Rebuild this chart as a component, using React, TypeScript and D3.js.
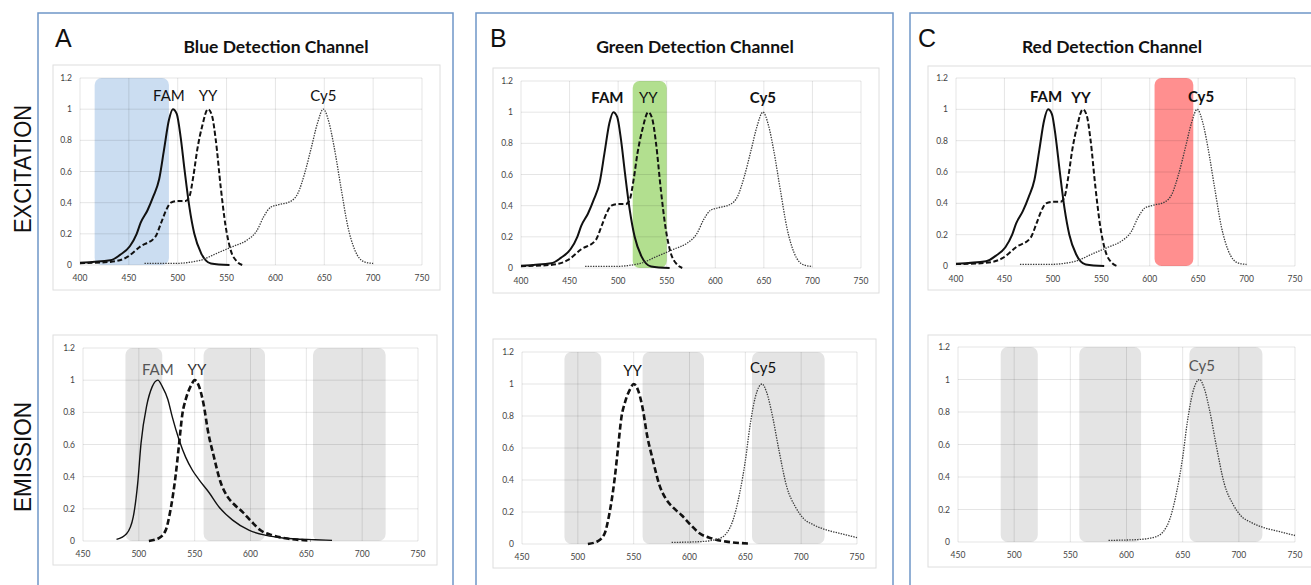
import React from "react";
import * as d3 from "d3";

type Pt = [number, number];

// excitation spectra, [wavelength nm, normalised intensity]
const famExcitation: Pt[] = [
  [400, 0.015], [431, 0.03], [441, 0.065], [451, 0.12], [458, 0.2], [462, 0.27],
  [469, 0.35], [475, 0.44], [481, 0.55], [486, 0.74], [491, 0.93], [495, 1.0],
  [499, 0.97], [503, 0.82], [507, 0.61], [512, 0.37], [517, 0.2], [524, 0.075],
  [534, 0.01], [553, 0],
];
const yyExcitation: Pt[] = [
  [400, 0.012], [431, 0.02], [448, 0.05], [462, 0.12], [477, 0.18], [483, 0.27],
  [488, 0.35], [493, 0.4], [500, 0.41], [508, 0.41], [512, 0.44], [516, 0.57],
  [520, 0.74], [525, 0.89], [531, 1.0], [535, 0.96], [539, 0.8], [544, 0.5],
  [549, 0.25], [554, 0.1], [561, 0.02], [566, 0],
];
const cy5Excitation: Pt[] = [
  [466, 0.01], [496, 0.01], [523, 0.03], [540, 0.075], [557, 0.12], [571, 0.16],
  [581, 0.22], [588, 0.31], [595, 0.37], [602, 0.385], [616, 0.41], [623, 0.46],
  [630, 0.59], [637, 0.76], [643, 0.91], [649, 1.0], [655, 0.91], [660, 0.76],
  [667, 0.5], [674, 0.25], [681, 0.1], [691, 0.02], [700, 0.01],
];

// emission spectra
const famEmission: Pt[] = [
  [480, 0.01], [489, 0.045], [495, 0.15], [499, 0.36], [502, 0.61], [507, 0.84],
  [512, 0.96], [517, 1.0], [521, 0.96], [526, 0.88], [530, 0.77], [536, 0.63],
  [542, 0.52], [548, 0.44], [554, 0.38], [563, 0.3], [572, 0.21], [584, 0.13],
  [599, 0.066], [614, 0.035], [629, 0.019], [658, 0.008], [673, 0.004],
];
const yyEmission: Pt[] = [
  [509, 0], [518, 0.018], [524, 0.066], [528, 0.18], [533, 0.41], [536, 0.6],
  [539, 0.79], [542, 0.88], [547, 0.97], [550, 1.0], [554, 0.96], [558, 0.85],
  [562, 0.68], [567, 0.53], [573, 0.37], [579, 0.28], [585, 0.23], [593, 0.18],
  [601, 0.12], [609, 0.067], [620, 0.035], [633, 0.015], [654, 0.003],
];
const cy5Emission: Pt[] = [
  [584, 0.01], [610, 0.015], [625, 0.03], [633, 0.066], [639, 0.15], [645, 0.32],
  [650, 0.52], [654, 0.73], [659, 0.92], [665, 1.0], [669, 0.95], [674, 0.81],
  [680, 0.59], [687, 0.36], [695, 0.23], [702, 0.16], [711, 0.12], [723, 0.087],
  [735, 0.066], [750, 0.04],
];

const exTicks = [400, 450, 500, 550, 600, 650, 700, 750];
const emTicks = [450, 500, 550, 600, 650, 700, 750];
const yTicks = [0, 0.2, 0.4, 0.6, 0.8, 1, 1.2];

const letters = ["A", "B", "C"];
const titles = ["Blue Detection Channel", "Green Detection Channel", "Red Detection Channel"];
// excitation filter windows per channel
const exBands: Pt[] = [[415, 491], [515, 550], [605, 645]];
const exBandColors = ["#cbddf1", "#b2df8f", "#ff8f8f"];
// emission filter windows (same for all channels)
const emBands: Pt[] = [[488, 521], [558, 613], [656, 721]];

const spectra: Record<string, { ex: Pt[]; em: Pt[] }> = {
  FAM: { ex: famExcitation, em: famEmission },
  YY: { ex: yyExcitation, em: yyEmission },
  Cy5: { ex: cy5Excitation, em: cy5Emission },
};

const FONT = "Lato, 'Open Sans', sans-serif";

const panels = [
  {
    border: [38, 453], titleX: 276, letterX: 55,
    ex: { box: [53, 65, 440, 290], x: [80, 422], y: [265, 78] },
    em: { box: [53, 335, 437, 565], x: [83, 418], y: [541, 348] },
    exLabels: [["FAM", 491, 1.05, 400], ["YY", 531, 1.05, 400], ["Cy5", 649, 1.05, 400]],
    emSeries: ["FAM", "YY"],
    emLabels: [["FAM", 517, 1.03, "#555"], ["YY", 552, 1.03, "#333"]],
  },
  {
    border: [476, 893], titleX: 695, letterX: 490,
    ex: { box: [493, 68, 879, 293], x: [521, 861], y: [268, 81] },
    em: { box: [493, 339, 876, 568], x: [522, 857], y: [544, 352] },
    exLabels: [["FAM", 489, 1.06, 700], ["YY", 531, 1.06, 400], ["Cy5", 649, 1.06, 700]],
    emSeries: ["YY", "Cy5"],
    emLabels: [["YY", 549, 1.05, "#111"], ["Cy5", 666, 1.07, "#111"]],
  },
  {
    border: [910, 1340], titleX: 1112, letterX: 918,
    ex: { box: [928, 66, 1330, 290], x: [956, 1295], y: [266, 78] },
    em: { box: [928, 335, 1330, 567], x: [958, 1295], y: [542, 347] },
    exLabels: [["FAM", 493, 1.05, 700], ["YY", 529, 1.04, 700], ["Cy5", 653, 1.05, 700]],
    emSeries: ["Cy5"],
    emLabels: [["Cy5", 667, 1.05, "#555"]],
  },
];

const lineStyle = (name: string, kind: "ex" | "em") => {
  if (name === "FAM") return { width: kind === "ex" ? 2 : 1.4, dash: "none", color: "#111" };
  if (name === "YY") return { width: kind === "ex" ? 2 : 2.6, dash: kind === "ex" ? "5 2.5" : "6 3", color: "#111" };
  return { width: 1.3, dash: "1.4 1.2", color: "#3a3a3a" };
};

const Chart = ({ cfg, kind, panel, idx }: any) => {
  const ticks = kind === "ex" ? exTicks : emTicks;
  const x = d3.scaleLinear().domain([ticks[0], ticks[ticks.length - 1]]).range(cfg.x);
  const y = d3.scaleLinear().domain([0, 1.2]).range(cfg.y);
  const line = d3
    .line<Pt>()
    .x((d) => x(d[0]))
    .y((d) => y(d[1]))
    .curve(d3.curveMonotoneX);
  const [bx0, by0, bx1, by1] = cfg.box;
  const bands = kind === "ex" ? [exBands[idx]] : emBands;
  const bandFill = kind === "ex" ? exBandColors[idx] : "#e4e4e4";
  const series = kind === "ex" ? ["FAM", "YY", "Cy5"] : panel.emSeries;
  const labels = kind === "ex" ? panel.exLabels : panel.emLabels;

  return (
    <g>
      <rect x={bx0} y={by0} width={bx1 - bx0} height={by1 - by0} fill="#fff" stroke="#dedede" />
      {bands.map((b: Pt, i: number) => (
        <rect
          key={i}
          x={x(b[0])}
          y={y(1.2)}
          width={x(b[1]) - x(b[0])}
          height={y(0) - y(1.2)}
          rx={7}
          fill={bandFill}
        />
      ))}
      {ticks.map((t) => (
        <line key={"gx" + t} x1={x(t)} x2={x(t)} y1={y(0)} y2={y(1.2)} stroke="rgba(0,0,0,0.1)" />
      ))}
      {yTicks.map((t) => (
        <line key={"gy" + t} x1={cfg.x[0]} x2={cfg.x[1]} y1={y(t)} y2={y(t)} stroke="rgba(0,0,0,0.1)" />
      ))}
      {ticks.map((t) => (
        <text key={"tx" + t} x={x(t)} y={y(0) + 16} textAnchor="middle" fontSize={8.5} fill="#444" fontFamily={FONT}>
          {t}
        </text>
      ))}
      {yTicks.map((t) => (
        <text key={"ty" + t} x={cfg.x[0] - 8} y={y(t) + 3} textAnchor="end" fontSize={8.5} fill="#444" fontFamily={FONT}>
          {String(t)}
        </text>
      ))}
      {series.map((s: string) => {
        const st = lineStyle(s, kind);
        return (
          <path
            key={s}
            d={line(spectra[s][kind as "ex" | "em"]) || ""}
            fill="none"
            stroke={st.color}
            strokeWidth={st.width}
            strokeDasharray={st.dash}
          />
        );
      })}
      {labels.map((l: any) => (
        <text
          key={l[0]}
          x={x(l[1])}
          y={y(l[2])}
          textAnchor="middle"
          fontSize={15}
          fontFamily={FONT}
          fontWeight={kind === "ex" ? l[3] : 400}
          fill={kind === "ex" ? "#111" : l[3]}
        >
          {l[0]}
        </text>
      ))}
    </g>
  );
};

export default function App() {
  return (
    <svg
      width={1311}
      height={585}
      style={{ position: "absolute", left: 0, top: 0, background: "#fff" }}
    >
      <rect x={0} y={0} width={1311} height={585} fill="#fff" />
      {panels.map((p, i) => (
        <g key={i}>
          <rect
            x={p.border[0]}
            y={13}
            width={p.border[1] - p.border[0]}
            height={620}
            fill="none"
            stroke="#6f96c8"
            strokeWidth={1.5}
          />
          <text x={p.letterX} y={47} fontSize={25} fontFamily="'Liberation Sans', Arial, sans-serif" fill="#111">
            {letters[i]}
          </text>
          <text x={p.titleX} y={53} textAnchor="middle" fontSize={17.5} fontWeight={700} fontFamily={FONT} fill="#111">
            {titles[i]}
          </text>
          <Chart cfg={p.ex} kind="ex" panel={p} idx={i} />
          <Chart cfg={p.em} kind="em" panel={p} idx={i} />
        </g>
      ))}
      <text
        transform="translate(31,169) rotate(-90)"
        textAnchor="middle"
        fontSize={24}
        fontFamily="'Liberation Sans', Arial, sans-serif"
        textLength={128}
        lengthAdjust="spacingAndGlyphs"
        fill="#111"
      >
        EXCITATION
      </text>
      <text
        transform="translate(31,457) rotate(-90)"
        textAnchor="middle"
        fontSize={24}
        fontFamily="'Liberation Sans', Arial, sans-serif"
        textLength={110}
        lengthAdjust="spacingAndGlyphs"
        fill="#111"
      >
        EMISSION
      </text>
    </svg>
  );
}
